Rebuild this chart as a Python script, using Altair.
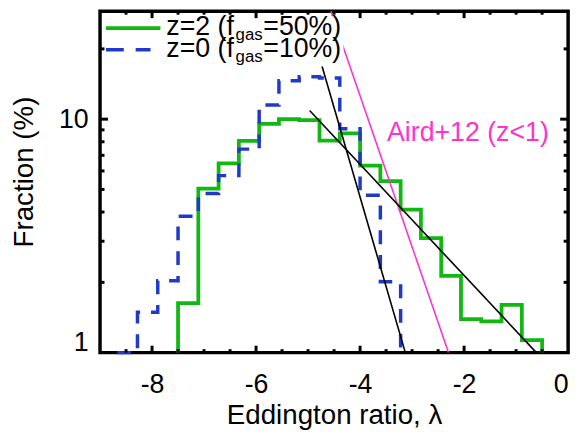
import altair as alt
import pandas as pd

# ---- data ----
GREEN_EDGES = [-7.50, -7.11, -6.72, -6.33, -5.94, -5.56, -5.17, -4.78, -4.39, -4.00,
               -3.61, -3.22, -2.83, -2.44, -2.06, -1.67, -1.28, -0.89, -0.50]
GREEN_FRAC = [1.63, 5.04, 6.47, 8.07, 9.55, 10.0, 9.9, 8.1, 8.7, 6.32,
              5.43, 4.10, 3.09, 2.13, 1.39, 1.36, 1.60, 1.13]
BLUE_EDGES = [-8.67, -8.28, -7.89, -7.50, -7.11, -6.72, -6.33, -5.94, -5.56, -5.17,
              -4.78, -4.39, -4.00, -3.61, -3.22]
BLUE_FRAC = [1.0, 1.49, 2.03, 3.84, 4.80, 5.73, 7.44, 11.5, 14.6, 15.2, 15.0, 9.1, 4.72, 2.01]

STEEP_X = [-4.73, -3.13]
STEEP_Y = [16.8, 1.0]
SHALLOW_X = [-4.97, -0.61]
SHALLOW_Y = [10.9, 1.0]
AIRD_X = [-4.56, -2.30]
AIRD_Y = [29.0, 1.0]

X_LABELS = [-8, -6, -4, -2, 0]
X_MAJOR = [-8, -6, -4, -2]
X_MINOR = [-8.5, -7.5, -7, -6.5, -5.5, -5, -4.5, -3.5, -3, -2.5, -1.5, -1, -0.5]
Y_LABELS = [1, 10]
Y_MAJOR = [10]
Y_MINOR = [2, 3, 4, 5, 6, 7, 8, 9, 20]

W, H = 473, 345
FONT = "Liberation Sans"
GREEN = "#12b812"
BLUE = "#2139c9"
PINK = "#ff33cc"


def steps(edges, vals):
    pts = [(edges[0], 1.0)]
    pts += [(edges[i], vals[i]) for i in range(len(vals))]
    pts += [(edges[-1], vals[-1]), (edges[-1], 1.0)]
    return pd.DataFrame({"x": [p[0] for p in pts], "y": [p[1] for p in pts],
                         "o": list(range(len(pts)))})


xs = alt.Scale(domain=[-9, 0], nice=False, zero=False)
ys = alt.Scale(type="log", domain=[1, 29], nice=False)

x_axis = alt.Axis(values=X_LABELS, labelExpr="toString(datum.value)", ticks=False, tickSize=0,
                  domain=False, grid=False, labelFontSize=27, labelPadding=40,
                  labelBaseline="alphabetic", labelColor="black", labelFont=FONT,
                  title="Eddington ratio, λ", titleFontSize=28, titleFont=FONT,
                  titleFontWeight="normal", titleColor="black", titleY=72,
                  titleBaseline="alphabetic")
y_axis = alt.Axis(values=Y_LABELS, labelExpr="toString(datum.value)", ticks=False, tickSize=0,
                  domain=False, grid=False, labelFontSize=27, labelPadding=12,
                  labelColor="black", labelFont=FONT,
                  labelOffset=alt.condition("datum.value == 1", alt.value(-10), alt.value(0)),
                  title="Fraction (%)", titleFontSize=28, titleFont=FONT,
                  titleFontWeight="normal", titleColor="black", titleX=-68, titleY=162,
                  titleBaseline="alphabetic")

X = alt.X("x:Q", scale=xs, axis=x_axis)
Y = alt.Y("y:Q", scale=ys, axis=y_axis)

green = alt.Chart(steps(GREEN_EDGES, GREEN_FRAC)).mark_line(
    interpolate="step-after", color=GREEN, strokeWidth=3.8, strokeJoin="miter"
).encode(x=X, y=Y, order="o:Q")

blue = alt.Chart(steps(BLUE_EDGES, BLUE_FRAC)).mark_line(
    interpolate="step-after", color=BLUE, strokeWidth=3.5, strokeDash=[14, 11], strokeJoin="miter"
).encode(x=X, y=Y, order="o:Q")


def seg(xv, yv, color, w):
    return alt.Chart(pd.DataFrame({"x": xv, "y": yv})).mark_line(color=color, strokeWidth=w).encode(
        x=X, y=Y)


aird = seg(AIRD_X, AIRD_Y, PINK, 1.6)
steep = seg(STEEP_X, STEEP_Y, "black", 1.6)
shallow = seg(SHALLOW_X, SHALLOW_Y, "black", 1.6)

one = pd.DataFrame({"a": [0]})
box = alt.Chart(one).mark_rect(color="white").encode(
    x=alt.value(4), x2=alt.value(246), y=alt.value(5), y2=alt.value(53))
leg_g = alt.Chart(one).mark_rule(color=GREEN, strokeWidth=3.8).encode(
    x=alt.value(6), x2=alt.value(61), y=alt.value(17))
leg_b = alt.Chart(one).mark_rule(color=BLUE, strokeWidth=3.5, strokeDash=[18, 12]).encode(
    x=alt.value(6), x2=alt.value(51), y=alt.value(39))


def txt(s, x, y, size, color="black"):
    return alt.Chart(one).mark_text(text=s, align="left", baseline="alphabetic", fontSize=size,
                                    font=FONT, color=color).encode(x=alt.value(x), y=alt.value(y))


legend_text = [
    txt("z=2 (f", 67, 24, 27), txt("gas", 137, 29, 17), txt("=50%)", 165, 24, 27),
    txt("z=0 (f", 67, 46, 27), txt("gas", 137, 51, 17), txt("=10%)", 165, 46, 27),
]
aird_lbl = txt("Aird+12 (z<1)", 290, 131, 27, PINK)


def xticks(vals, length):
    d = pd.DataFrame({"x": vals})
    b = alt.Chart(d).mark_rule(color="black", strokeWidth=3).encode(
        x=X, y=alt.value(H), y2=alt.value(H - length))
    t = alt.Chart(d).mark_rule(color="black", strokeWidth=3).encode(
        x=X, y=alt.value(0), y2=alt.value(length))
    return [b, t]


def yticks(vals, length):
    d = pd.DataFrame({"y": vals})
    l = alt.Chart(d).mark_rule(color="black", strokeWidth=3).encode(
        y=Y, x=alt.value(0), x2=alt.value(length))
    r = alt.Chart(d).mark_rule(color="black", strokeWidth=3).encode(
        y=Y, x=alt.value(W), x2=alt.value(W - length))
    return [l, r]


ticks = xticks(X_MAJOR, 7) + xticks(X_MINOR, 3.5) + yticks(Y_MAJOR, 8) + yticks(Y_MINOR, 4.5)

chart = alt.layer(
    green, blue, aird, steep, shallow, box, leg_g, leg_b, *legend_text, aird_lbl, *ticks
).properties(
    width=W, height=H,
    autosize=alt.AutoSizeParams(type="none"),
    padding={"left": 93, "top": 1, "right": 10, "bottom": 80},
).configure(font=FONT).configure_view(stroke="black", strokeWidth=3.5)

chart.save("out.html", embed_options={"renderer": "svg", "actions": False})
